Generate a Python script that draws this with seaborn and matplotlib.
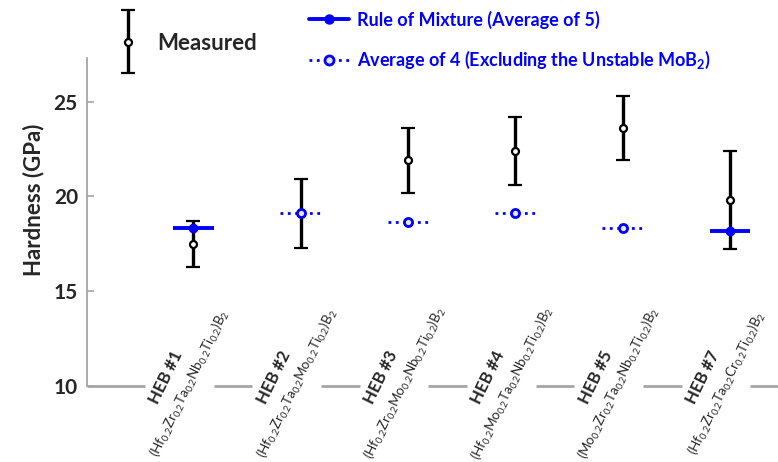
import matplotlib
matplotlib.use("Agg")
import matplotlib.pyplot as plt
import seaborn as sns
import pandas as pd
from matplotlib.lines import Line2D
from matplotlib.legend_handler import HandlerErrorbar

# ---- data -------------------------------------------------------------
samples = ["HEB #1", "HEB #2", "HEB #3", "HEB #4", "HEB #5", "HEB #7"]
formulas = [
    r"(Hf$_{0.2}$Zr$_{0.2}$Ta$_{0.2}$Nb$_{0.2}$Ti$_{0.2}$)B$_2$",
    r"(Hf$_{0.2}$Zr$_{0.2}$Ta$_{0.2}$Mo$_{0.2}$Ti$_{0.2}$)B$_2$",
    r"(Hf$_{0.2}$Zr$_{0.2}$Mo$_{0.2}$Nb$_{0.2}$Ti$_{0.2}$)B$_2$",
    r"(Hf$_{0.2}$Mo$_{0.2}$Ta$_{0.2}$Nb$_{0.2}$Ti$_{0.2}$)B$_2$",
    r"(Mo$_{0.2}$Zr$_{0.2}$Ta$_{0.2}$Nb$_{0.2}$Ti$_{0.2}$)B$_2$",
    r"(Hf$_{0.2}$Zr$_{0.2}$Ta$_{0.2}$Cr$_{0.2}$Ti$_{0.2}$)B$_2$",
]
measured = [17.5, 19.1, 21.9, 22.4, 23.6, 19.8]
measured_err = [1.2, 1.8, 1.7, 1.8, 1.7, 2.6]

# rule of mixture, average of all five binary borides
rom5_samples = ["HEB #1", "HEB #7"]
rom5_values = [18.35, 18.15]
# rule of mixture, average of four (unstable MoB2 left out)
rom4_samples = ["HEB #2", "HEB #3", "HEB #4", "HEB #5"]
rom4_values = [19.1, 18.65, 19.1, 18.35]

yticks = [10, 15, 20, 25]

# ---- styling ----------------------------------------------------------
sns.set_theme(style="white")
plt.rcParams["font.family"] = ["Lato", "DejaVu Sans"]
plt.rcParams["mathtext.fontset"] = "custom"
plt.rcParams["mathtext.rm"] = "Lato"
plt.rcParams["mathtext.default"] = "regular"

BLUE = "#0000ff"
GREY = "#a6a6a6"
HALF_W = 0.19  # half-width of the rule-of-mixture bars

pos = {s: i for i, s in enumerate(samples)}
df_meas = pd.DataFrame({"x": [pos[s] for s in samples], "y": measured, "err": measured_err})
df_r5 = pd.DataFrame({"x": [pos[s] for s in rom5_samples], "y": rom5_values})
df_r4 = pd.DataFrame({"x": [pos[s] for s in rom4_samples], "y": rom4_values})

fig = plt.figure(figsize=(7.78, 4.62), dpi=100)
ax = fig.add_axes([87 / 778, 76 / 462, 691 / 778, 328 / 462])

# measured hardness with error bars
meas = ax.errorbar(df_meas["x"], df_meas["y"], yerr=df_meas["err"], fmt="o",
                   ms=5, mfc="white", mec="black", mew=1.6,
                   ecolor="black", elinewidth=2.4, capsize=5, capthick=2.4, zorder=2)

# rule of mixture (average of 5)
ax.hlines(df_r5["y"], df_r5["x"] - HALF_W, df_r5["x"] + HALF_W,
          color=BLUE, lw=2.8, zorder=4)
sns.scatterplot(data=df_r5, x="x", y="y", ax=ax, marker="o", s=36,
                color=BLUE, edgecolor=BLUE, linewidth=1, zorder=5)

# average of 4 (excluding MoB2)
ax.hlines(df_r4["y"], df_r4["x"] - HALF_W, df_r4["x"] + HALF_W,
          color=BLUE, lw=2.0, linestyles=":", zorder=4)
sns.scatterplot(data=df_r4, x="x", y="y", ax=ax, marker="o", s=34,
                facecolor="#e8e8ff", edgecolor=BLUE, linewidth=2.0, zorder=5)

# ---- axes -------------------------------------------------------------
xmin, xmax = -0.99, 5.447
ax.set_xlim(xmin, xmax)
ax.set_ylim(10, 27.3)
ax.set_yticks(yticks)
ax.set_xticks([])
ax.set_xlabel("")
ax.set_ylabel("Hardness (GPa)", fontsize=16, fontweight="bold")
ax.yaxis.set_label_coords(-0.062, 0.567)
ax.tick_params(axis="y", direction="in", length=5, width=1.2, color=GREY,
               pad=6.5, labelsize=15, left=True)
for lab in ax.get_yticklabels():
    lab.set_fontweight("bold")

for side in ["top", "right", "bottom"]:
    ax.spines[side].set_visible(False)
ax.spines["left"].set_color(GREY)
ax.spines["left"].set_linewidth(1.3)

# broken baseline, interrupted where the category labels cross it
xs = list(range(len(samples)))
starts = [xmin] + [x + HALF_W for x in xs]
ends = [x - 0.45 for x in xs] + [xmax]
ax.hlines([10] * len(starts), starts, ends, color=GREY, lw=2.0, clip_on=False)

# rotated category labels: sample name and composition
for x, name, formula in zip(xs, samples, formulas):
    ax.annotate(name, xy=(x, 10), xytext=(-19.5, 6.5), textcoords="offset points",
                rotation=64, rotation_mode="anchor", ha="center", va="center",
                fontsize=12, fontweight="bold", annotation_clip=False)
    ax.annotate(formula, xy=(x, 10), xytext=(-2.5, 2), textcoords="offset points",
                rotation=64, rotation_mode="anchor", ha="center", va="center",
                fontsize=9.6, annotation_clip=False)

# ---- legends ----------------------------------------------------------
leg1 = fig.legend([meas], ["Measured"], loc="center left",
                  bbox_to_anchor=(118 / 778, 1 - 43 / 462),
                  handler_map={type(meas): HandlerErrorbar(yerr_size=1.42)},
                  frameon=False, borderpad=0, borderaxespad=0,
                  handlelength=0.9, handletextpad=0.86,
                  prop={"weight": "bold", "size": 16})

h_r5 = Line2D([], [], color=BLUE, lw=2.8, marker="o", ms=6.5, mfc=BLUE, mec=BLUE)
h_r4 = Line2D([], [], color=BLUE, lw=2.0, ls=":", marker="o", ms=6.5,
              mfc="#e8e8ff", mec=BLUE, mew=2.0)
leg2 = fig.legend([h_r5, h_r4],
                  ["Rule of Mixture (Average of 5)",
                   r"Average of 4 (Excluding the Unstable MoB$_2$)"],
                  loc="center left", bbox_to_anchor=(309 / 778, 1 - 41 / 462),
                  frameon=False, borderpad=0, borderaxespad=0,
                  handlelength=2.2, handletextpad=0.45, labelspacing=1.15,
                  labelcolor=BLUE, prop={"weight": "bold", "size": 13})

fig.savefig("out.png", dpi=100)
